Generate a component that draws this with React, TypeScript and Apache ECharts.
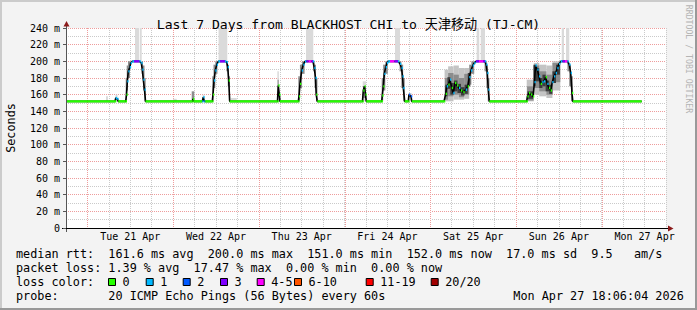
import React, { useEffect, useRef } from "react";
import * as echarts from "echarts";

const MONO = "'DejaVu Sans Mono', 'Noto Sans CJK SC', monospace";

const titleText = "Last 7 Days from BLACKHOST CHI to 天津移动 (TJ-CM)";
const dayLabels = ["Tue 21 Apr", "Wed 22 Apr", "Thu 23 Apr", "Fri 24 Apr", "Sat 25 Apr", "Sun 26 Apr", "Mon 27 Apr"];
const firstNoonHour = 36; // hours since Mon 20 Apr 00:00
const midnightHours = [24, 48, 72, 96, 120, 144, 168];
const xMinHour = 18;
const xMaxHour = 186;

// [hours since Mon 20 Apr 00:00, median rtt (ms), lost pings of 20]
const medianRtt: [number, number, number][] = [
  [18.28, 152, 0], [31.72, 152, 0], [31.94, 156, 1], [32.36, 155, 1], [32.64, 152, 0],
  [34.72, 152, 0], [34.94, 160, 0], [35.16, 176, 1], [35.44, 188, 1], [35.88, 193, 1],
  [36.12, 198, 1], [36.56, 200, 1], [37.04, 200, 3], [38.58, 200, 1], [39.08, 198, 1],
  [39.36, 190, 1], [39.64, 178, 1], [39.98, 166, 1], [40.26, 152, 0],
  [53.42, 152, 0], [53.56, 155, 0], [53.84, 152, 0],
  [56.16, 152, 1], [56.44, 157, 1], [56.72, 152, 1], [57.0, 152, 0],
  [58.96, 152, 0], [59.16, 160, 0], [59.44, 177, 1], [59.8, 189, 1], [60.2, 196, 1],
  [60.64, 200, 1], [61.12, 200, 3], [62.52, 200, 1], [63.0, 199, 1], [63.28, 193, 1],
  [63.56, 177, 0], [63.84, 152, 0],
  [77.22, 152, 0], [77.44, 171, 0], [77.72, 160, 0], [77.92, 152, 0],
  [83.04, 152, 0], [83.24, 158, 0], [83.52, 173, 0], [84.0, 189, 1], [84.44, 196, 1],
  [84.92, 200, 1], [85.34, 200, 3], [85.9, 200, 4], [86.74, 200, 3], [87.16, 200, 1],
  [87.52, 192, 1], [87.86, 180, 1], [88.06, 160, 0], [88.36, 152, 0],
  [101.02, 152, 0], [101.24, 165, 0], [101.58, 170, 0], [101.86, 160, 0], [102.08, 152, 0],
  [106.4, 152, 0], [106.56, 159, 0], [106.84, 170, 0], [107.12, 185, 1], [107.52, 193, 1],
  [107.88, 198, 1], [108.24, 200, 1], [108.72, 200, 4], [109.98, 200, 3], [110.96, 200, 1],
  [111.52, 197, 1], [111.94, 192, 1], [112.22, 182, 1], [112.44, 168, 1], [112.84, 152, 0],
  [113.84, 152, 0], [114.04, 160, 2], [114.6, 158, 2], [114.82, 152, 0],
  [123.84, 152, 0], [124.32, 161, 0], [124.6, 170, 1], [125.04, 172, 0], [125.52, 178, 1],
  [126.0, 168, 0], [126.44, 162, 1], [126.92, 174, 0], [127.48, 171, 0], [128.04, 168, 1],
  [128.6, 165, 0], [129.24, 163, 0], [129.92, 166, 1], [130.48, 170, 0], [130.92, 181, 1],
  [131.4, 189, 1], [131.88, 195, 1], [132.32, 198, 1], [132.8, 200, 3], [133.64, 200, 4],
  [134.76, 200, 3], [135.32, 200, 1], [135.66, 196, 1], [135.96, 186, 1], [136.24, 166, 1],
  [136.52, 152, 0],
  [146.98, 152, 0], [147.2, 158, 0], [147.64, 162, 0], [148.2, 160, 0], [148.76, 158, 0],
  [149.18, 175, 1], [149.46, 195, 1], [149.96, 190, 1], [150.44, 182, 1], [150.92, 173, 0],
  [151.36, 175, 1], [151.84, 176, 1], [152.32, 181, 0], [152.76, 173, 1], [153.24, 168, 0],
  [153.72, 165, 0], [154.16, 175, 1], [154.64, 182, 1], [155.12, 186, 1], [155.56, 192, 1],
  [156.04, 197, 1], [156.52, 200, 1], [157.02, 200, 3], [157.72, 200, 4], [158.42, 200, 1],
  [158.92, 196, 1], [159.32, 186, 1], [159.68, 162, 0], [159.9, 152, 0],
  [179.2, 152, 0],
];

// smoke columns: [from hour, to hour, low ms, high ms]
const smokeLight: [number, number, number, number][] = [
  [29.2, 29.76, 152, 158], [31.86, 32.42, 152, 160],
  [37.32, 38.52, 200, 260], [38.72, 39.2, 200, 260],
  [47.96, 49.0, 152, 155], [56.22, 56.78, 152, 160], [64.2, 65.8, 152, 156],
  [60.72, 63.16, 200, 260],
  [77.18, 77.6, 152, 188], [85.2, 87.24, 200, 260],
  [101.08, 102.0, 152, 176], [110.12, 111.52, 200, 260], [113.84, 114.8, 152, 162],
  [132.99, 133.72, 200, 260], [134.12, 135.32, 200, 260],
  [156.8, 157.44, 200, 260], [158.0, 158.92, 200, 260],
];
const smokeWide: [number, number, number, number][] = [
  [124.0, 125.0, 152, 190], [125.0, 126.5, 152, 194], [126.5, 128.0, 154, 195],
  [128.0, 129.5, 154, 192], [129.5, 130.9, 155, 192],
  [147.0, 149.0, 152, 178], [149.0, 150.5, 160, 198], [150.5, 152.5, 158, 196],
  [152.5, 154.2, 156, 195], [154.2, 156.4, 165, 200],
];
const smokeMid: [number, number, number, number][] = [
  [34.72, 35.0, 152, 180], [35.0, 35.36, 165, 195], [35.36, 35.92, 180, 200],
  [39.2, 39.56, 185, 200], [39.56, 39.98, 165, 195], [39.98, 40.32, 152, 180],
  [53.2, 53.92, 152, 164],
  [58.96, 59.3, 152, 182], [59.3, 59.8, 168, 196], [59.8, 60.4, 185, 200],
  [62.9, 63.3, 188, 200], [63.3, 63.6, 170, 196], [63.6, 63.9, 152, 182],
  [77.25, 77.55, 158, 178],
  [83.04, 83.5, 152, 182], [83.5, 84.1, 168, 196], [84.1, 84.8, 185, 200],
  [87.2, 87.6, 188, 200], [87.6, 88.0, 168, 196], [88.0, 88.4, 152, 180],
  [101.2, 101.9, 156, 170],
  [106.4, 106.8, 152, 180], [106.8, 107.4, 165, 196], [107.4, 108.1, 185, 200],
  [111.4, 111.9, 188, 200], [111.9, 112.4, 168, 196], [112.4, 112.85, 152, 180],
  [124.1, 125.0, 154, 180], [125.0, 126.5, 158, 186], [126.5, 128.0, 160, 184],
  [128.0, 129.5, 157, 180], [129.5, 130.9, 160, 185],
  [130.9, 131.5, 172, 196], [131.5, 132.3, 185, 200],
  [135.2, 135.7, 188, 200], [135.7, 136.1, 168, 196], [136.1, 136.55, 152, 180],
  [147.1, 148.9, 153, 170], [148.9, 150.5, 168, 195], [150.5, 152.5, 164, 188],
  [152.5, 154.2, 160, 184], [154.2, 156.4, 175, 198],
  [158.4, 158.9, 188, 200], [158.9, 159.4, 170, 196], [159.4, 159.9, 152, 182],
];
const smokeCore: [number, number, number, number][] = [
  [124.2, 124.8, 158, 172], [124.8, 125.6, 167, 181], [125.6, 126.6, 160, 174],
  [126.6, 127.6, 164, 177], [127.6, 128.6, 162, 173], [128.6, 129.6, 159, 169],
  [129.6, 130.5, 161, 172], [130.5, 131.2, 170, 186],
  [147.2, 148.8, 155, 164], [148.9, 149.5, 170, 196], [149.5, 150.5, 176, 192],
  [150.5, 151.4, 168, 180], [151.4, 152.3, 170, 184], [152.3, 153.3, 164, 177],
  [153.3, 154.2, 161, 172], [154.2, 155.2, 174, 188], [155.2, 156.3, 184, 196],
];

const lossLabels = ["0", "1", "2", "3", "4-5", "6-10", "11-19", "20/20"];
const lossColors = ["#26ff00", "#00b8ff", "#0059ff", "#7e00ff", "#ff00ff", "#ff5500", "#ff0000", "#a10000"];
const rttStats = ["161.6", "200.0", "151.0", "152.0", "17.0", "9.5"];
const lossStats = ["1.39", "17.47", "0.00", "0.00"];
const probeText = "20 ICMP Echo Pings (56 Bytes) every 60s";
const stampText = "Mon Apr 27 18:06:04 2026";

function lossBin(lost: number): number {
  if (lost <= 3) return lost;
  if (lost <= 5) return 4;
  if (lost <= 10) return 5;
  if (lost <= 19) return 6;
  return 7;
}

const nb = (s: string) => s.replace(/ /g, "\u00a0");

function smokeSeries(data: number[][], color: string, z: number) {
  return {
    type: "custom",
    z,
    silent: true,
    encode: { x: [0, 1], y: [2, 3] },
    data,
    renderItem: (params: any, api: any) => {
      const a = api.coord([api.value(0), api.value(3)]);
      const b = api.coord([api.value(1), api.value(2)]);
      const cs = params.coordSys;
      const shape = echarts.graphic.clipRectByRect(
        { x: a[0], y: a[1], width: b[0] - a[0], height: b[1] - a[1] },
        { x: cs.x, y: cs.y, width: cs.width, height: cs.height }
      );
      if (!shape) return { type: "group", children: [] };
      return { type: "rect", shape, style: { fill: color } };
    },
  };
}

export default function App() {
  const ref = useRef<HTMLDivElement>(null);
  useEffect(() => {
    document.body.style.margin = "0";
    const chart = echarts.init(ref.current!, null, { renderer: "svg" });

    // [from hour, to hour, ms, lost, next ms]
    const segData = medianRtt
      .slice(0, -1)
      .map((r, i) => [r[0], medianRtt[i + 1][0], r[1], r[2], medianRtt[i + 1][1]]);
    const gridRed = "#ee9c9c";
    const gridGray = "#cacaca";

    const line1 = `median rtt:  ${rttStats[0]} ms avg  ${rttStats[1]} ms max  ${rttStats[2]} ms min  ${rttStats[3]} ms now  ${rttStats[4]} ms sd  ${rttStats[5]}   am/s`;
    const line2 = `packet loss: ${lossStats[0]} % avg  ${lossStats[1]} % max  ${lossStats[2]} % min  ${lossStats[3]} % now`;
    const line4 = `probe:       ${probeText}`;
    const legendBoxX = [108, 145.7, 182.7, 220, 256.7, 294, 365.7, 430.7];
    const LF = 11.8;

    const textEl = (x: number, y: number, text: string, extra: any = {}) => ({
      type: "text",
      x,
      y,
      silent: true,
      style: {
        text: nb(text),
        fontFamily: MONO,
        fontSize: LF,
        fill: "#000",
        textVerticalAlign: "middle",
        ...extra,
      },
    });

    const graphics: any[] = [
      { type: "rect", shape: { x: 0, y: 0, width: 697, height: 2 }, style: { fill: "#cbcbcb" }, silent: true },
      { type: "rect", shape: { x: 0, y: 0, width: 2, height: 310 }, style: { fill: "#cbcbcb" }, silent: true },
      { type: "rect", shape: { x: 0, y: 308, width: 697, height: 2 }, style: { fill: "#999999" }, silent: true },
      { type: "rect", shape: { x: 695, y: 0, width: 2, height: 310 }, style: { fill: "#999999" }, silent: true },
      { type: "line", shape: { x1: 66.5, y1: 228, x2: 66.5, y2: 232 }, style: { stroke: "#555", lineWidth: 1 }, silent: true },
      { type: "line", shape: { x1: 62, y1: 228.5, x2: 668, y2: 228.5 }, style: { stroke: "#000", lineWidth: 1 }, silent: true },
      { type: "line", shape: { x1: 66.5, y1: 24, x2: 66.5, y2: 28 }, style: { stroke: "#555", lineWidth: 1 }, silent: true },
      { type: "polygon", shape: { points: [[63.5, 26.5], [69.5, 26.5], [66.5, 21]] }, style: { fill: "#8b1a1a" }, silent: true },
      { type: "polygon", shape: { points: [[668, 225.5], [668, 231.5], [673.5, 228.5]] }, style: { fill: "#8b1a1a" }, silent: true },
      {
        type: "text", x: 10.5, y: 128, rotation: Math.PI / 2, silent: true,
        style: { text: "Seconds", fontFamily: MONO, fontSize: LF, fill: "#000", textAlign: "center", textVerticalAlign: "middle" },
      },
      {
        type: "text", x: 688.5, y: 59, rotation: -Math.PI / 2, silent: true,
        style: { text: nb("RRDTOOL / TOBI OETIKER"), fontFamily: MONO, fontSize: 8.2, fill: "#b4b4b4", textAlign: "center", textVerticalAlign: "middle" },
      },
      textEl(16, 253.5, line1),
      textEl(16, 268, line2),
      textEl(16, 282.3, "loss color:"),
      textEl(16, 296.3, line4),
      textEl(513.3, 296.3, stampText),
    ];
    lossLabels.forEach((lab, i) => {
      graphics.push({
        type: "rect", silent: true,
        shape: { x: legendBoxX[i] + 0.5, y: 278.5, width: 7, height: 7 },
        style: { fill: lossColors[i], stroke: "#000", lineWidth: 1 },
      });
      graphics.push(textEl(legendBoxX[i] + 14.5, 282.3, lab));
    });

    const option: any = {
      animation: false,
      backgroundColor: "#f3f3f3",
      textStyle: { fontFamily: MONO },
      title: {
        text: titleText,
        left: "center",
        top: 13,
        textStyle: { fontFamily: MONO, fontSize: 13.1, fontWeight: "normal", color: "#000" },
      },
      grid: {
        left: 66, top: 28, width: 600, height: 200,
        show: true, backgroundColor: "#ffffff", borderWidth: 0,
        containLabel: false,
      },
      xAxis: {
        type: "value",
        min: xMinHour,
        max: xMaxHour,
        interval: 6,
        axisLine: { show: true, lineStyle: { color: "#000", width: 1 } },
        axisTick: { show: false },
        splitLine: { show: true, lineStyle: { color: gridGray, width: 1, type: [1, 1] } },
        axisLabel: {
          margin: 3,
          fontFamily: MONO,
          fontSize: 10,
          color: "#000",
          showMinLabel: true,
          showMaxLabel: true,
          formatter: (v: number) => {
            if ((v - firstNoonHour) % 24 !== 0) return "";
            const i = (v - firstNoonHour) / 24;
            return i >= 0 && i < dayLabels.length ? dayLabels[i] : "";
          },
        },
      },
      yAxis: {
        type: "value",
        min: 0,
        max: 240,
        interval: 20,
        axisLine: { show: true, lineStyle: { color: "#555", width: 1 } },
        axisTick: { show: true, length: 3, lineStyle: { color: "#555" } },
        splitLine: { show: true, lineStyle: { color: gridRed, width: 1, type: [1, 1] } },
        minorTick: { show: false, splitNumber: 2 },
        minorSplitLine: { show: true, lineStyle: { color: gridGray, width: 1, type: [1, 1] } },
        axisLabel: {
          margin: 6,
          fontFamily: MONO,
          fontSize: 10,
          color: "#000",
          formatter: (v: number) => (v === 0 ? "0" : `${v} m`),
        },
      },
      graphic: graphics,
      series: [
        {
          type: "custom",
          z: 1,
          silent: true,
          encode: { x: 0 },
          data: midnightHours.map((h) => [h]),
          renderItem: (params: any, api: any) => {
            const cs = params.coordSys;
            const p = api.coord([api.value(0), 0]);
            const x = Math.round(p[0]) + 0.5;
            const shape = { x1: x, y1: cs.y, x2: x, y2: cs.y + cs.height };
            return {
              type: "group",
              children: [
                { type: "line", shape, style: { stroke: "#ffffff", lineWidth: 1.2 } },
                { type: "line", shape, style: { stroke: gridRed, lineWidth: 1, lineDash: [1, 1] } },
              ],
            };
          },
        },
        smokeSeries(smokeLight, "#dadada", 2),
        smokeSeries(smokeWide, "#c4c4c4", 3),
        smokeSeries(smokeMid, "#8c8c8c", 4),
        smokeSeries(smokeCore, "#3c3c3c", 5),
        {
          type: "line",
          z: 6,
          silent: true,
          showSymbol: false,
          data: medianRtt.map((r) => [r[0], r[1]]),
          lineStyle: { color: "#000", width: 1.6 },
        },
        {
          type: "custom",
          z: 7,
          silent: true,
          encode: { x: [0, 1], y: 2 },
          data: segData,
          renderItem: (params: any, api: any) => {
            const a = api.coord([api.value(0), api.value(2)]);
            const b = api.coord([api.value(1), api.value(2)]);
            const flat = api.value(2) === api.value(4);
            const w = flat ? Math.max(b[0] - a[0], 1.3) : 1.3;
            return {
              type: "rect",
              shape: { x: a[0], y: a[1] - 1.2, width: w, height: 2.4 },
              style: { fill: lossColors[lossBin(api.value(3))] },
            };
          },
        },
      ],
    };

    chart.setOption(option);
    return () => chart.dispose();
  }, []);
  return <div ref={ref} style={{ width: 697, height: 310 }} />;
}
